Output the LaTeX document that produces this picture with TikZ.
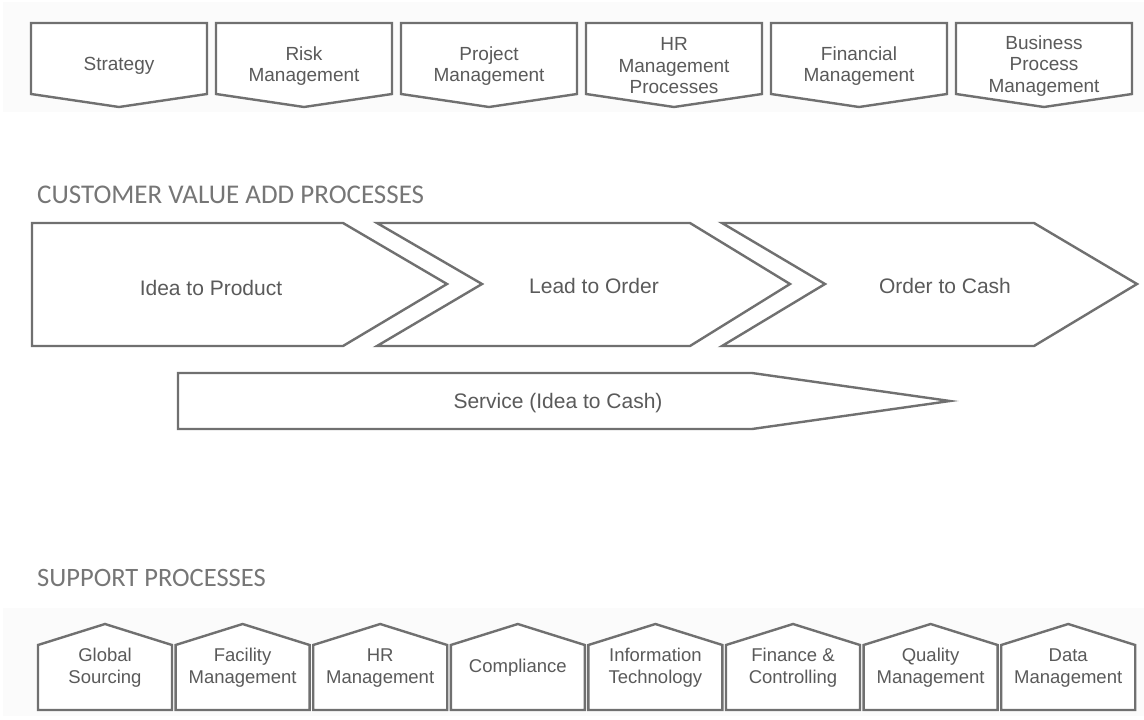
\documentclass[tikz,border=0pt]{standalone}
\usepackage{fontspec}
\setmainfont{Liberation Sans}
\newfontfamily\headfont{Carlito}
\definecolor{ln}{HTML}{707070}
\definecolor{tx}{HTML}{5A5A5A}
\definecolor{hd}{HTML}{767676}
\definecolor{band}{HTML}{FBFBFB}
\begin{document}
\begin{tikzpicture}[x=1pt,y=-1pt,
  shp/.style={draw=ln,line width=2.4pt,fill=white,line join=miter},
  toptxt/.style={text=tx,font=\fontsize{19}{21.5}\selectfont,align=center,inner sep=0pt},
  midtxt/.style={text=tx,font=\fontsize{21}{24}\selectfont,align=center,inner sep=0pt},
  bottxt/.style={text=tx,font=\fontsize{18.5}{22}\selectfont,align=center,inner sep=0pt},
  headtxt/.style={text=hd,anchor=west,inner sep=0pt}]
\useasboundingbox (0,0) rectangle (1144,720);
\fill[white] (0,0) rectangle (1144,720);
\fill[band] (3,2) rectangle (1144,112);
\fill[band] (3,608) rectangle (1144,716);

% top row
\foreach \i/\t in {0/{Strategy},1/{Risk\\Management},2/{Project\\Management},3/{HR\\Management\\Processes},4/{Financial\\Management},5/{Business\\Process\\Management}}{
  \pgfmathsetmacro\L{31+185*\i}
  \draw[shp] (\L,23) -- (\L+176,23) -- (\L+176,94) -- (\L+88,107) -- (\L,94) -- cycle;
  \node[toptxt] (top\i) at (\L+88,66) {\t};
}

% heading 1
\node[headtxt,font=\headfont\fontsize{27}{30}\selectfont] (h1) at (37,195) {CUSTOMER VALUE ADD PROCESSES};

% chevrons
\draw[shp] (32,223) -- (343,223) -- (447,284) -- (343,346) -- (32,346) -- cycle;
\draw[shp] (377,223) -- (690,223) -- (790,284) -- (690,346) -- (377,346) -- (482,284) -- cycle;
\draw[shp] (722,223) -- (1034,223) -- (1137,284) -- (1034,346) -- (722,346) -- (825,284) -- cycle;
\node[midtxt] (c1) at (211,288) {Idea to Product};
\node[midtxt] (c2) at (594,286) {Lead to Order};
\node[midtxt] (c3) at (945,286) {Order to Cash};

% service
\draw[shp] (178,373) -- (752,373) -- (950,401) -- (752,429) -- (178,429) -- cycle;
\node[midtxt] (svc) at (558,403) {Service (Idea to Cash)};

% heading 2
\node[headtxt,font=\headfont\fontsize{26.5}{30}\selectfont] (h2) at (37,578) {SUPPORT PROCESSES};

% bottom row
\foreach \i/\t in {0/{Global\\Sourcing},1/{Facility\\Management},2/{HR\\Management},3/{Compliance},4/{Information\\Technology},5/{Finance \&\\Controlling},6/{Quality\\Management},7/{Data\\Management}}{
  \pgfmathsetmacro\L{38+137.6*\i}
  \draw[shp] (\L,645) -- (\L+67,624) -- (\L+134,645) -- (\L+134,710) -- (\L,710) -- cycle;
  \node[bottxt] (bot\i) at (\L+67,668) {\t};
}
\end{tikzpicture}
\end{document}
